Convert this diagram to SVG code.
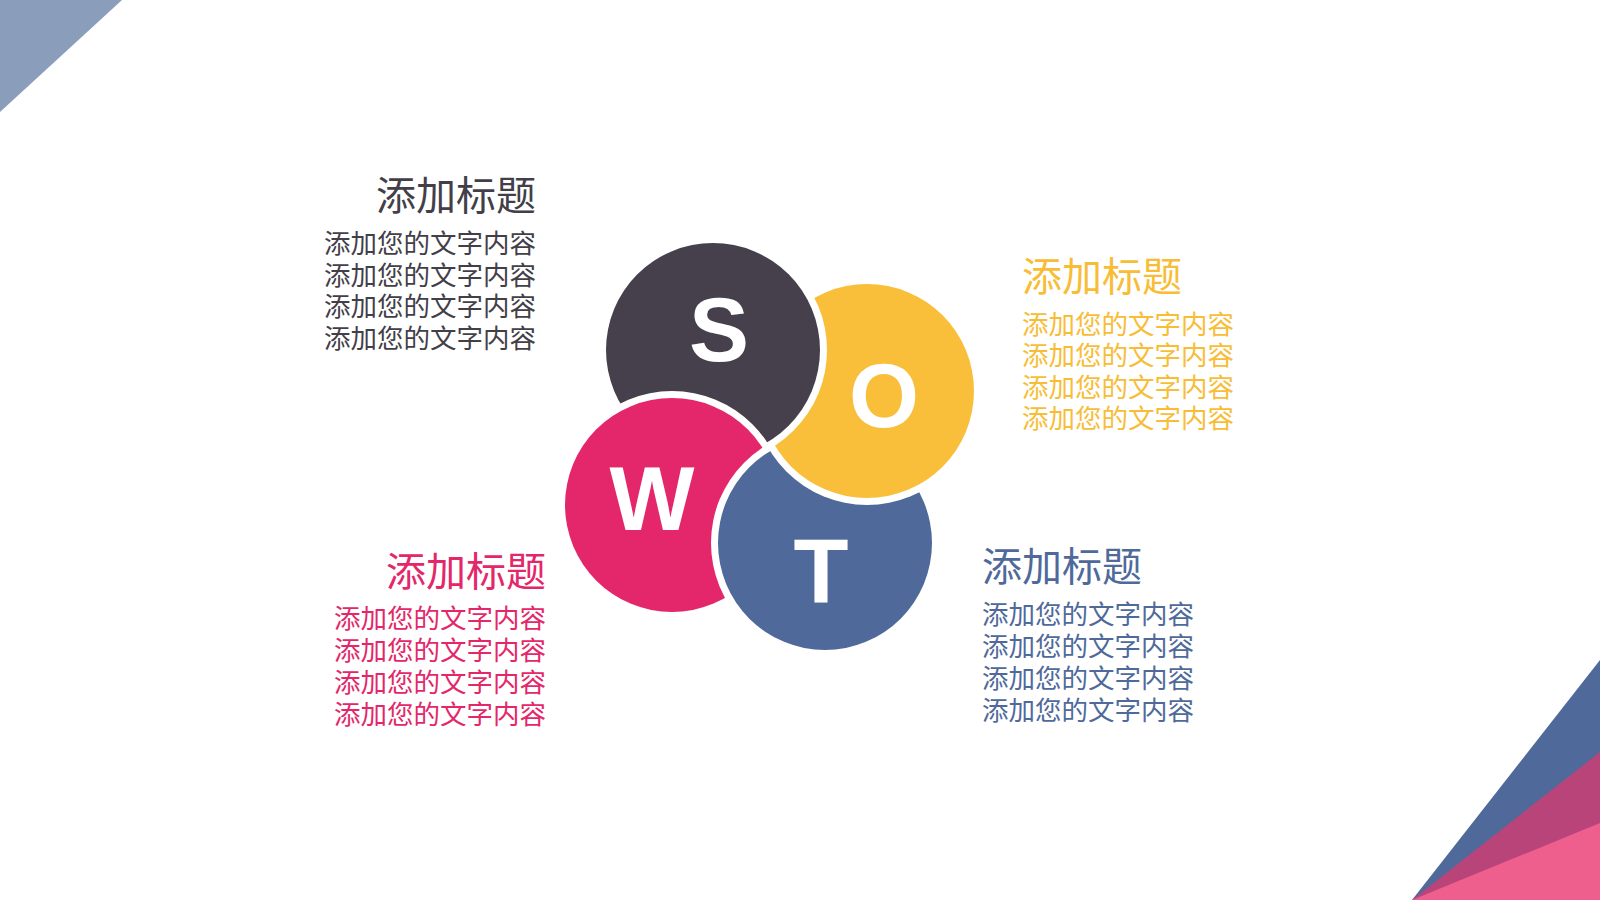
<svg xmlns="http://www.w3.org/2000/svg" width="1600" height="900" viewBox="0 0 1600 900">
  <style>
    .ttl { font-family: "Noto Sans CJK SC", "Microsoft YaHei", sans-serif; font-size: 40px; }
    .body { font-family: "Noto Sans CJK SC", "Microsoft YaHei", sans-serif; font-size: 26.5px; }
    .ltr { font-family: "Liberation Sans", Arial, sans-serif; font-weight: bold; font-size: 90px; fill: #ffffff; text-anchor: middle; }
    .ring { fill: #ffffff; }
  </style>
  <defs>
    <mask id="maskNoT" maskUnits="userSpaceOnUse" x="0" y="0" width="1600" height="900">
      <rect x="0" y="0" width="1600" height="900" fill="#ffffff"/>
      <circle cx="825" cy="543" r="114" fill="#000000"/>
    </mask>
  </defs>
  <rect width="1600" height="900" fill="#ffffff"/>
  <g id="decor">
    <polygon points="0,0 122,0 0,112" fill="#8a9dbb"/>
    <polygon points="1600,660 1600,900 1412,900" fill="#4f6a9a"/>
    <polygon points="1600,752 1600,900 1412,900" fill="#b9447a"/>
    <polygon points="1600,823 1600,900 1412,900" fill="#ee5f8d"/>
  </g>
  <g id="connectors"></g>
  <g id="node-T">
    <circle class="ring" cx="825" cy="543" r="114"/>
    <circle cx="825" cy="543" r="107" fill="#4f6a9a"/>
    <text class="ltr" x="821" y="603">T</text>
  </g>
  <g id="node-O">
    <circle class="ring" cx="867" cy="391" r="114"/>
    <circle cx="867" cy="391" r="107" fill="#f9bf3b"/>
    <text class="ltr" x="884" y="427">O</text>
  </g>
  <g id="node-S">
    <circle class="ring" cx="713" cy="350" r="114"/>
    <circle cx="713" cy="350" r="107" fill="#45404b"/>
    <text class="ltr" x="719" y="361">S</text>
  </g>
  <g id="node-W">
    <g mask="url(#maskNoT)">
      <circle class="ring" cx="672" cy="505" r="114"/>
      <circle cx="672" cy="505" r="107" fill="#e4276a"/>
    </g>
    <text class="ltr" x="652" y="530">W</text>
  </g>
  <g id="text-S" fill="#433f49" text-anchor="end">
    <text class="ttl" x="536" y="210">添加标题</text>
    <text class="body" x="536" y="253">添加您的文字内容</text>
    <text class="body" x="536" y="285">添加您的文字内容</text>
    <text class="body" x="536" y="316">添加您的文字内容</text>
    <text class="body" x="536" y="348">添加您的文字内容</text>
  </g>
  <g id="text-O" fill="#f8bd36" text-anchor="start">
    <text class="ttl" x="1022" y="291">添加标题</text>
    <text class="body" x="1022" y="334">添加您的文字内容</text>
    <text class="body" x="1022" y="365">添加您的文字内容</text>
    <text class="body" x="1022" y="397">添加您的文字内容</text>
    <text class="body" x="1022" y="428">添加您的文字内容</text>
  </g>
  <g id="text-W" fill="#e4276a" text-anchor="end">
    <text class="ttl" x="546" y="586">添加标题</text>
    <text class="body" x="546" y="628">添加您的文字内容</text>
    <text class="body" x="546" y="660">添加您的文字内容</text>
    <text class="body" x="546" y="692">添加您的文字内容</text>
    <text class="body" x="546" y="724">添加您的文字内容</text>
  </g>
  <g id="text-T" fill="#4f6a9a" text-anchor="start">
    <text class="ttl" x="982" y="581">添加标题</text>
    <text class="body" x="982" y="624">添加您的文字内容</text>
    <text class="body" x="982" y="656">添加您的文字内容</text>
    <text class="body" x="982" y="688">添加您的文字内容</text>
    <text class="body" x="982" y="720">添加您的文字内容</text>
  </g>
</svg>
